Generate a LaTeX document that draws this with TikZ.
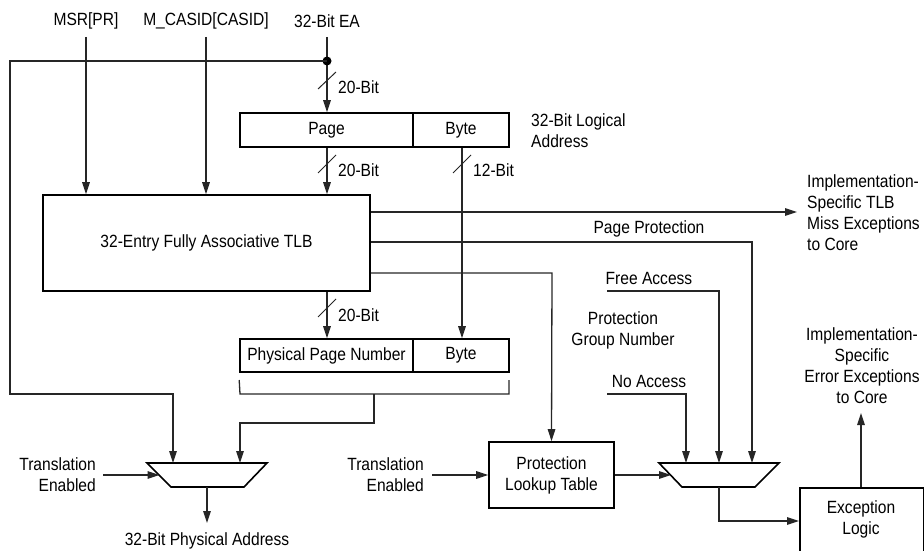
\documentclass[tikz,border=0pt]{standalone}
\usepackage{fontspec}
\setmainfont{Liberation Sans}[FakeStretch=0.88]
\usetikzlibrary{arrows.meta}
\begin{document}
\begin{tikzpicture}[x=1pt,y=-1pt,
  lbl/.style={inner sep=0pt, font=\fontsize{17.7}{21}\selectfont},
  box/.style={draw=black, line width=1.6pt, inner sep=0pt, font=\fontsize{17.7}{21}\selectfont, align=center},
  conn/.style={draw=black!85, line width=1.3pt},
  arr/.style={conn, -{Triangle[length=12pt,width=7.5pt]}},
  mux/.style={draw=black, line width=1.6pt, line join=miter},
  slashmark/.style={draw=black!85, line width=1pt}
]
\clip (0,0) rectangle (924,551);

% top labels
\node[lbl] (msr) at (86,21) {MSR[PR]};
\node[lbl] (casid) at (206,21) {M\_CASID[CASID]};
\node[lbl] (ea) at (327,21) {32-Bit EA};

% boxes
\node[box, minimum width=173, minimum height=34] (page) at (326.5,130) {Page};
\node[box, minimum width=96, minimum height=34] (byte) at (461,130) {Byte};
\node[lbl, anchor=west, align=left] (logaddr) at (531,130.5) {32-Bit Logical\\Address};

\node[box, minimum width=327, minimum height=96] (tlb) at (206.5,243) {32-Entry Fully Associative TLB};

\node[box, minimum width=173, minimum height=33] (ppn) at (326.5,355.5) {Physical Page Number};
\node[box, minimum width=96, minimum height=33] (pbyte) at (461,355.5) {Byte};

\node[box, minimum width=125, minimum height=66] (plt) at (551.5,475) {Protection\\Lookup Table};

\node[box, anchor=north west, minimum width=124, minimum height=110] (exc) at (799,487) {};
\node[lbl, align=center] (exctext) at (861,519) {Exception\\Logic};

% muxes
\coordinate (lm1) at (147,463); \coordinate (lm2) at (267,463);
\coordinate (lm3) at (244,487); \coordinate (lm4) at (171,487);
\draw[mux] (lm1) -- (lm2) -- (lm3) -- (lm4) -- cycle;
\coordinate (rm1) at (659,463); \coordinate (rm2) at (779,463);
\coordinate (rm3) at (755,487); \coordinate (rm4) at (682,487);
\draw[mux] (rm1) -- (rm2) -- (rm3) -- (rm4) -- cycle;

% other labels
\node[lbl, anchor=west, align=left] (tlbmiss) at (807,213) {Implementation-\\Specific TLB\\Miss Exceptions\\to Core};
\node[lbl] (pageprot) at (649,229) {Page Protection};
\node[lbl] (freeacc) at (649,278) {Free Access};
\node[lbl, align=center] (pgn) at (623,330) {Protection\\Group Number};
\node[lbl] (noacc) at (649,381) {No Access};
\node[lbl, align=center] (errexc) at (862,365.5) {Implementation-\\Specific\\Error Exceptions\\to Core};
\node[lbl, align=right, anchor=east] (te1) at (96,475) {Translation\\Enabled};
\node[lbl, align=right, anchor=east] (te2) at (424,475) {Translation\\Enabled};
\node[lbl] (phys) at (207,541) {32-Bit Physical Address};

\node[lbl, anchor=west] (b1) at (338,87) {20-Bit};
\node[lbl, anchor=west] (b2) at (338,170) {20-Bit};
\node[lbl, anchor=west] (b3) at (473,170) {12-Bit};
\node[lbl, anchor=west] (b4) at (338,315) {20-Bit};

% connectors from top
\coordinate (dot) at (327,61);
\draw[arr] (msr.south |- 0,37) -- (msr.south |- tlb.north);
\draw[arr] (casid.south |- 0,37) -- (casid.south |- tlb.north);
\draw[conn] (ea.south |- 0,37) -- (dot);
\draw[arr] (dot) -- (dot |- page.north);
\fill[black] (dot) circle (4.5);
\coordinate (lin1) at (lm1 -| 173,0);
\draw[arr] (dot) -- (10,61) -- (10,394) -- (173,394) -- (lin1);

% page/byte down
\draw[arr] (page.south -| 327,0) -- (tlb.north -| 327,0);
\draw[arr] (byte.south -| 462,0) -- (pbyte.north -| 462,0);
\draw[arr] (tlb.south -| 327,0) -- (ppn.north -| 327,0);

% slashes
\draw[slashmark] (318,89) -- (336,72);
\draw[slashmark] (318,173) -- (336,155);
\draw[slashmark] (453,173) -- (471,155);
\draw[slashmark] (318,317) -- (336,299);

% TLB outputs
\draw[arr] (tlb.east |- 0,212) -- (797,212);
\draw[arr] (tlb.east |- 0,242) -- (752,242) -- (752,463);
\draw[arr] (tlb.east |- 0,273) -- (552,273) -- (plt.north);

% access inputs
\draw[arr] (607,291) -- (719,291) -- (719,463);
\draw[arr] (607,394) -- (686,394) -- (686,463);

% bracket under physical address
\draw[conn] (ppn.south west |- 0,380) -- (240,394) -- (509,394) -- (509,380);
\draw[arr] (374,394) -- (374,423) -- (240,423) -- (240,463);

% translation enabled
\draw[arr] (103,475) -- (159.5,475);
\draw[arr] (432,475) -- (plt.west);
\draw[arr] (plt.east) -- (671,475);

% outputs
\draw[arr] (207,487) -- (207,523);
\draw[arr] (719,487) -- (719,521) -- (exc.west |- 0,521);
\draw[arr] (exc.north -| 861,0) -- (861,413);
\end{tikzpicture}
\end{document}
